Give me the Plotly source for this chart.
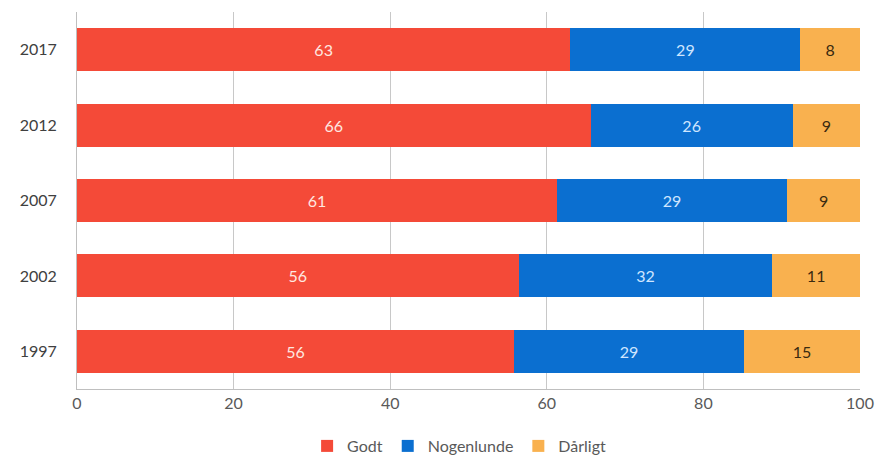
import plotly.graph_objects as go

years = ["1997", "2002", "2007", "2012", "2017"]
godt = [55.8, 56.4, 61.3, 65.6, 63.0]
nogenlunde = [29.4, 32.4, 29.4, 25.8, 29.4]
daarligt = [14.8, 11.2, 9.3, 8.6, 7.6]
series_names = ["Godt", "Nogenlunde", "Dårligt"]
x_ticks = [0, 20, 40, 60, 80, 100]

colors = ["#F44A38", "#0B6FD0", "#F9B14F"]
text_colors = ["#FFE8E0", "#CFE6FF", "#3A2A10"]

fig = go.Figure()
for name, vals, c, tc in zip(series_names, [godt, nogenlunde, daarligt], colors, text_colors):
    fig.add_trace(go.Bar(
        y=years, x=vals, name=name, orientation="h",
        marker=dict(color=c, line=dict(width=0)),
        texttemplate="%{x:.0f}", textposition="inside",
        insidetextanchor="middle",
        textfont=dict(color=tc, size=16, family="Lato"),
        hoverinfo="skip",
    ))

fig.update_layout(
    barmode="stack",
    bargap=0.43,
    width=881, height=459,
    margin=dict(l=77, r=21, t=12, b=70, autoexpand=False),
    paper_bgcolor="white", plot_bgcolor="white",
    font=dict(family="Lato", size=16, color="#595959"),
    showlegend=True,
    legend=dict(orientation="h", x=0.488, xanchor="center",
                yref="container", y=(459 - 446) / 459, yanchor="middle",
                font=dict(size=16, color="#595959"), traceorder="normal",
                itemwidth=30, tracegroupgap=0),
    uniformtext=dict(mode="show", minsize=15),
)
fig.update_xaxes(range=[0, 100], tickvals=x_ticks, showgrid=True, gridcolor="#C8C8C8",
                 gridwidth=1, zeroline=False, showline=True, linecolor="#BFBFBF",
                 linewidth=1, ticks="", automargin=False,
                 tickfont=dict(size=16, color="#595959"))
fig.update_yaxes(type="category", categoryorder="array", categoryarray=years,
                 showline=True, linecolor="#BFBFBF", linewidth=1, ticks="",
                 automargin=False, ticklabelstandoff=16,
                 tickfont=dict(size=16, color="#404040"))

fig.write_html("out.html", config={"displayModeBar": False},
               post_script="document.body.style.margin='0';document.body.style.padding='0';")
